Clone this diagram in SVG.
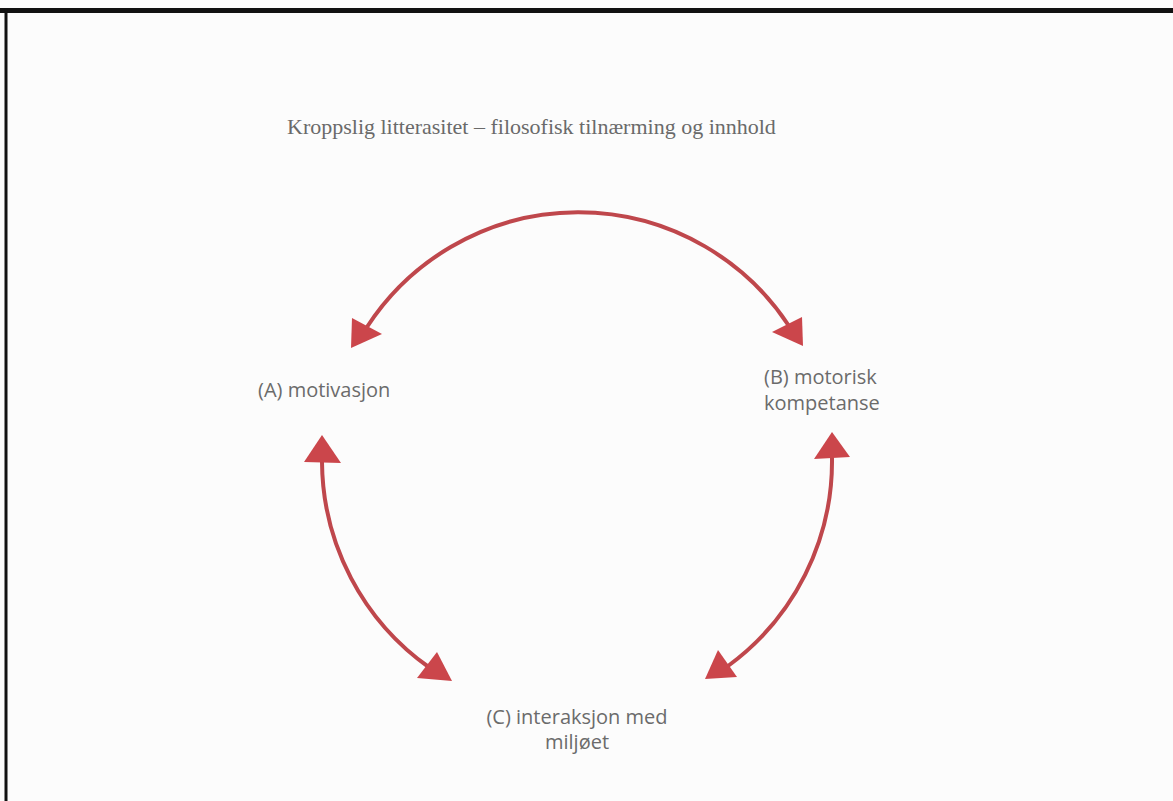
<svg xmlns="http://www.w3.org/2000/svg" width="1173" height="801" viewBox="0 0 1173 801">
<style>
.title{font-family:"Liberation Serif","DejaVu Serif",serif;font-size:22px;fill:#6a6a6a}
.lbl{font-family:"Open Sans","Noto Sans",sans-serif;font-size:20px;fill:#6b6b6b}
.arc{fill:none;stroke:#bf474c;stroke-width:4;stroke-linecap:round}
.head{fill:#cb464b}
</style>
<rect x="0" y="0" width="1173" height="801" fill="#fcfcfc"/>
<g id="frame">
<line x1="0" y1="10.5" x2="1173" y2="10.5" stroke="#111" stroke-width="5"/>
<line x1="6" y1="8" x2="6" y2="801" stroke="#111" stroke-width="3"/>
</g>
<text class="title" x="287" y="134">Kroppslig litterasitet – filosofisk tilnærming og innhold</text>
<g id="connectors">
<path class="arc" d="M367,327 A252,252 0 0 1 789,326"/>
<path class="arc" d="M322,462 A254,254 0 0 0 430,668"/>
<path class="arc" d="M832,458 A254,254 0 0 1 728,666"/>
<polygon class="head" points="351,348 352,318 382,334"/>
<polygon class="head" points="803,346 802,317 772,332"/>
<polygon class="head" points="322,435 304,462 341,463"/>
<polygon class="head" points="452,681 437,652 417,678"/>
<polygon class="head" points="832,432 814,459 850,457"/>
<polygon class="head" points="705,679 718,650 737,677"/>
</g>
<g id="nodeA"><text class="lbl" x="258" y="397">(A) motivasjon</text></g>
<g id="nodeB"><text class="lbl" x="764" y="384">(B) motorisk</text><text class="lbl" x="764" y="410">kompetanse</text></g>
<g id="nodeC"><text class="lbl" x="577" y="724" text-anchor="middle">(C) interaksjon med</text><text class="lbl" x="577" y="749" text-anchor="middle">miljøet</text></g>
</svg>
